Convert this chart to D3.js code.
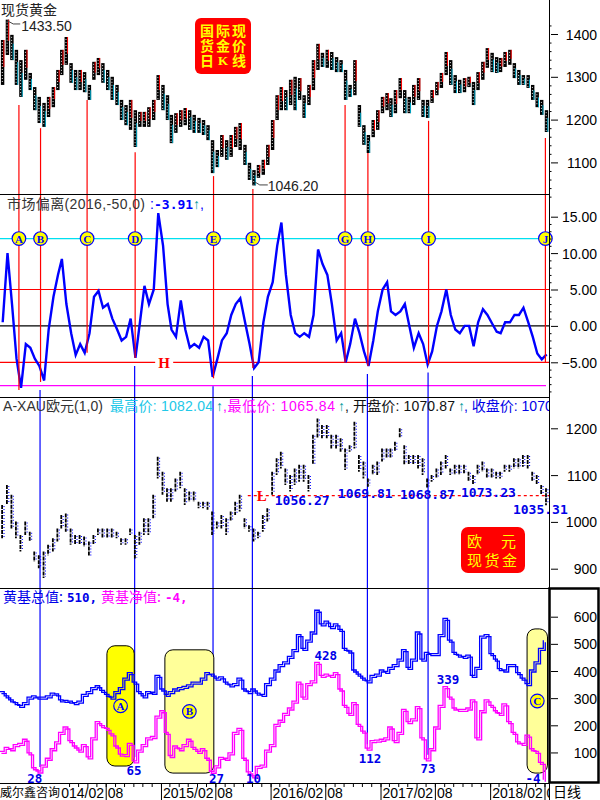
<!DOCTYPE html>
<html><head><meta charset="utf-8">
<script src="https://cdn.jsdelivr.net/npm/d3@7"></script>
<style>body{margin:0;background:#fff}svg{display:block}</style>
</head><body><svg id="c" width="600" height="800"></svg>
<script>
// ---------------- DATA ----------------
const domainStart = "2013-08-14", domainEnd = "2018-08-16";
const periodCount = 120; // half-month periods from 2013-08-16
const goldHigh = [1386,1433.5,1398,1363,1339,1363,1309,1276,1253,1239,
1253,1276,1316,1363,1393,1332,1316,1316,1311,1281,
1335,1344,1332,1316,1300,1281,1246,1234,1246,1222,
1218,1218,1229,1246,1304,1281,1257,1211,1215,1222,
1227,1222,1211,1204,1199,1187,1152,1129,1164,1152,
1164,1183,1192,1141,1099,1082,1094,1106,1141,1199,
1257,1276,1269,1293,1300,1297,1257,1281,1339,1377,
1356,1363,1358,1346,1339,1316,1281,1339,1234,1187,
1164,1199,1222,1253,1262,1250,1269,1297,1269,1253,
1281,1297,1246,1246,1269,1288,1309,1358,1339,1304,
1293,1297,1300,1288,1311,1335,1367,1356,1346,1344,
1358,1363,1332,1316,1304,1304,1281,1264,1246,1222];
const goldLow = [1281,1351,1339,1281,1253,1293,1269,1222,1192,1183,
1206,1229,1269,1304,1328,1286,1269,1269,1264,1246,
1293,1304,1286,1269,1246,1234,1199,1187,1176,1136,
1183,1183,1183,1199,1246,1222,1199,1145,1169,1183,
1187,1176,1169,1169,1164,1152,1075,1089,1113,1106,
1113,1136,1129,1094,1059,1046.2,1064,1071,1094,1129,
1199,1222,1222,1234,1222,1246,1204,1234,1269,1316,
1323,1321,1316,1311,1311,1246,1253,1257,1183,1141,
1122,1159,1176,1215,1222,1206,1215,1250,1215,1215,
1234,1246,1206,1204,1239,1257,1274,1304,1281,1262,
1262,1264,1276,1234,1269,1293,1321,1311,1309,1311,
1323,1328,1297,1281,1281,1274,1246,1229,1211,1171];
const deviation = [0.5,10.0,3.0,-4.5,-8.5,-2.5,-3.0,-4.5,-5.5,-7.5,
-0.5,4.0,7.0,9.2,3.0,-1.0,-4.0,-2.5,-3.7,-1.0,
4.0,4.8,2.5,3.0,1.0,-0.5,-2.0,-1.5,1.0,-4.4,
0.5,5.5,3.0,5.0,15.5,11.0,3.0,-0.5,-1.5,3.5,
-0.5,-3.0,-2.5,-3.0,-1.5,-2.0,-7.0,-4.5,-2.0,-1.0,
1.5,3.0,3.8,0.5,-2.5,-5.8,-5.0,0.5,4.0,6.0,
11.0,14.2,7.0,1.5,-1.0,-1.5,-1.0,-1.5,1.5,10.5,
8.5,7.0,3.0,-2.0,-1.0,-5.0,-2.5,1.0,-1.0,-3.5,
-5.5,-2.0,2.0,5.0,6.0,2.0,1.5,2.0,3.0,0.0,
-3.0,-1.0,-2.5,-5.3,-3.5,0.0,2.0,5.0,1.5,-0.5,
-1.0,0.0,0.0,-2.8,0.5,2.3,1.5,0.3,-0.8,-1.0,
0.5,0.5,1.5,1.5,2.5,0.5,-1.5,-3.8,-4.6,-3.91];
const eurHigh = [1036,1079,1058,1001,972,1001,979,937,929,937,
951,965,986,1015,1018,986,972,972,969,958,
972,986,986,986,986,979,965,965,986,972,
979,1008,1008,1058,1139,1107,1072,1072,1093,1107,
1072,1065,1065,1043,1043,1043,1022,1001,1015,1008,
1022,1043,1058,1008,993,986,979,1015,1029,1107,
1136,1150,1114,1100,1114,1122,1122,1100,1186,1221,
1207,1207,1186,1186,1179,1157,1164,1214,1143,1129,
1093,1122,1129,1157,1157,1157,1171,1200,1164,1143,
1143,1143,1136,1093,1100,1114,1129,1143,1114,1122,
1122,1122,1107,1100,1122,1129,1114,1114,1107,1107,
1122,1122,1136,1136,1143,1143,1107,1100,1079,1072];
const eurLow = [965,1036,986,965,937,972,958,915,901,880,
929,937,958,986,979,951,951,951,947,926,
951,972,965,965,965,965,951,951,972,922,
951,972,972,1008,1093,1058,1043,1043,1065,1072,
1036,1043,1043,1029,1029,1026,972,986,986,972,
1001,1015,1022,986,979,958,965,979,1001,1058,
1100,1114,1079,1065,1079,1086,1086,1065,1122,1179,
1179,1179,1157,1157,1150,1111,1150,1157,1107,1093,
1075,1100,1100,1129,1136,1136,1150,1179,1122,1122,
1122,1114,1100,1072,1086,1093,1100,1114,1100,1100,
1100,1104,1086,1079,1100,1107,1093,1093,1093,1093,
1107,1107,1114,1114,1118,1114,1086,1079,1058,1035.31];
const etfTotal = [320,305,290,280,270,280,300,305,300,300,
305,315,312,290,288,285,280,285,310,320,
335,342,325,310,300,320,335,370,390,355,
320,305,320,318,380,330,310,320,330,335,
340,345,355,355,370,390,385,370,375,355,
345,350,370,330,320,330,315,310,350,370,
400,420,430,450,475,530,480,510,540,620,
570,580,560,570,550,480,470,400,385,370,
360,380,385,400,395,410,420,440,475,410,
440,540,440,465,460,460,530,590,510,465,
455,450,455,380,410,525,530,460,440,405,
400,420,420,390,370,350,400,430,480,510];
const etfNet = [100,115,110,125,130,145,95,40,28,50,
75,110,135,170,190,140,120,105,125,80,
150,210,195,185,165,120,90,88,130,65,
105,125,150,155,230,250,170,85,120,110,
125,145,115,100,110,75,27,47,78,75,
95,170,185,75,25,10,45,50,105,125,
200,215,240,260,285,355,300,350,360,428,
380,385,380,390,330,270,240,280,200,175,
112,140,142,145,150,190,140,170,255,210,
220,265,150,73,110,190,270,339,300,260,
255,255,260,290,150,250,290,270,250,240,
275,210,170,135,130,160,110,100,60,-4];

const goldTicks = [1100,1200,1300,1400];
const devTicks = [-5,0,5,10,15];
const eurTicks = [900,1000,1100,1200];
const etfTicks = [100,200,300,400,500,600];
const devLevels = [12,5,0,-5,-8.2];

const markerLetters = ["A","B","C","D","E","F","G","H","I","J"];
const markerDates = ["2013-10-16","2013-12-27","2014-05-31","2014-11-07","2015-07-26","2015-12-04","2016-10-06","2016-12-21","2017-07-11","2018-08-04"];
const markerGold = [1234,1180,1246,1124,1068,1038,1234,1122,1197,1157];
const markerDev = [-8.8,-7.7,-3.7,-4.4,-7.2,-5.8,-5.0,-5.5,-5.3,-5.0];
const markerNet = [null,28,null,65,27,10,null,112,73,null];

const goldExtremeDates = ["2013-08-28","2015-12-17"];
const goldExtremeValues = [1433.50,1046.20];
const goldExtremeKinds = ["max","min"];

const eurLevel = 1056.27, eurLevelStart = "2015-11-17";
const eurLabelDates = ["2016-02-15","2016-09-12","2017-04-07","2017-10-27","2018-04-18"];
const eurLabelValues = [1056.27,1069.81,1068.87,1073.23,1035.31];

const etfLabelDates = ["2013-12-08","2014-11-03","2015-08-05","2015-12-06","2016-08-03","2016-12-28","2017-07-09","2017-09-14","2018-06-24"];
const etfLabelValues = [28,65,27,10,428,112,73,339,-4];
const etfLabelKinds = ["low","low","low","low","high","low","low","high","low"];

const boxIds = ["A","B","C"];
const boxFrom = ["2014-08-05","2015-02-14","2018-06-04"];
const boxTo = ["2014-11-04","2015-07-27","2018-08-11"];
const boxTop = [493,478,555];
const boxBottom = [50,24,24];

const devHLabelDate = "2015-02-05";

// ---------------- SETUP ----------------
const parse = d3.timeParse("%Y-%m-%d");
const svg = d3.select("#c");
const W = 549;
const SANS = "'Liberation Sans', Arial, 'Noto Sans CJK SC', sans-serif";
const CJK = "'Noto Sans CJK SC', sans-serif";
const MONO = "'DejaVu Sans Mono', monospace";
const SERIF = "'Liberation Serif', 'DejaVu Serif', serif";

const x = d3.scaleTime().domain([parse(domainStart), parse(domainEnd)]).range([0, W]);
const yGold = d3.scaleLinear().domain([1000,1400]).range([205.2,34]);
const yDev = d3.scaleLinear().domain([-5,15]).range([362.3,216.7]);
const yEur = d3.scaleLinear().domain([900,1200]).range([568.7,428.3]);
const yEtf = d3.scaleLinear().domain([0,600]).range([779.6,616.7]);

const periodStarts = d3.range(periodCount).map(i => new Date(2013, 7 + Math.floor((i+1)/2), (i+1)%2 ? 16 : 1));
const centers = periodStarts.map(d => d3.timeDay.offset(d, 7));

const panels = [[0,194],[195,397],[398,588],[589,783]];
const defs = svg.append("defs");
panels.forEach((p,i) => defs.append("clipPath").attr("id","clip"+i).append("rect")
  .attr("x",0).attr("y",p[0]).attr("width",W).attr("height",p[1]-p[0]));
defs.append("clipPath").attr("id","clipX").append("rect").attr("x",0).attr("y",783).attr("width",W).attr("height",17);
defs.append("clipPath").attr("id","clipT").append("rect").attr("x",0).attr("y",0).attr("width",W).attr("height",800);

// ---------------- PANEL 1: gold candles ----------------
const gold = centers.map((c,i) => ({c, hi: goldHigh[i], lo: goldLow[i],
  up: i===0 ? true : (goldHigh[i]+goldLow[i]) >= (goldHigh[i-1]+goldLow[i-1])}));
const g1 = svg.append("g").attr("clip-path","url(#clip0)");
g1.selectAll("rect").data(gold).join("rect")
  .attr("x", d => x(d.c)-1.8).attr("width", 3.4)
  .attr("y", d => yGold(d.hi)).attr("height", d => Math.max(1, yGold(d.lo)-yGold(d.hi)))
  .attr("fill", "#000");
g1.selectAll("line.w").data(gold).join("line").attr("class","w")
  .attr("x1", d => x(d.c)-0.4).attr("x2", d => x(d.c)-0.4)
  .attr("y1", d => yGold(d.hi)+2).attr("y2", d => yGold(d.lo)-1)
  .attr("stroke", "#fff").attr("stroke-width", 0.9).attr("stroke-dasharray","1,2");
g1.selectAll("line.c").data(gold).join("line").attr("class","c")
  .attr("x1", d => x(d.c)+1.2).attr("x2", d => x(d.c)+1.2)
  .attr("y1", d => d.up ? yGold(d.hi) : yGold(d.hi) + (yGold(d.lo)-yGold(d.hi))*0.35)
  .attr("y2", d => d.up ? yGold(d.hi) + (yGold(d.lo)-yGold(d.hi))*0.6 : yGold(d.lo))
  .attr("stroke", d => d.up ? "#ff0000" : "#00a8c8").attr("stroke-width", 1);

goldExtremeDates.forEach((ds,i) => {
  const px = x(parse(ds)), py = yGold(goldExtremeValues[i]);
  const g = svg.append("g");
  if (goldExtremeKinds[i] === "max") {
    g.append("polyline").attr("points", `${px+3},${py+1} ${px+9},${py+4.3} ${px+16},${py+4.3}`)
      .attr("fill","none").attr("stroke","#444");
    g.append("text").attr("x", px+17).attr("y", py+11).text(goldExtremeValues[i].toFixed(2));
  } else {
    g.append("polyline").attr("points", `${px-2},${py-3.5} ${px+3},${py-0.5} ${px+11},${py-0.5}`)
      .attr("fill","none").attr("stroke","#444");
    g.append("text").attr("x", px+11).attr("y", py+6).text(goldExtremeValues[i].toFixed(2));
  }
  g.selectAll("text").attr("font-family", SANS).attr("font-size", 14).attr("fill","#222");
});

svg.append("text").attr("x",1).attr("y",15).attr("font-family",CJK).attr("font-size",14).attr("fill","#222").text("现货黄金");

const badge = svg.append("g");
badge.append("rect").attr("x",195).attr("y",18).attr("width",56).attr("height",56).attr("rx",6).attr("fill","#f00");
const bt = (t, xx, yy, fam, fs) => badge.append("text").attr("x",xx).attr("y",yy).attr("text-anchor","middle")
  .attr("font-family",fam).attr("font-weight","bold").attr("font-size",fs).attr("fill","#ff0").text(t);
[["国",36],["货",51],["日",66]].forEach(r => bt(r[0],207,r[1],CJK,14));
[["际",36],["金",51]].forEach(r => bt(r[0],223,r[1],CJK,14));
bt("K",223,65,SERIF,13);
[["现",36],["价",51],["线",66]].forEach(r => bt(r[0],239,r[1],CJK,14));

// ---------------- PANEL 2: deviation ----------------
const g2 = svg.append("g").attr("clip-path","url(#clip1)");
const levelColors = {"12":"#00e0f0","5":"#ff0000","0":"#000","-5":"#ff0000","-8.2":"#ff00ff"};
const hx = x(parse(devHLabelDate));
devLevels.forEach(v => {
  const y = yDev(v);
  if (v === -5) {
    g2.append("line").attr("x1",0).attr("x2",hx-7).attr("y1",y).attr("y2",y).attr("stroke","#f00").attr("stroke-width",1.2);
    g2.append("line").attr("x1",hx+11).attr("x2",W).attr("y1",y).attr("y2",y).attr("stroke","#f00").attr("stroke-width",1.2);
  } else {
    g2.append("line").attr("x1",0).attr("x2", v===-8.2 ? 546 : W).attr("y1",y).attr("y2",y)
      .attr("stroke",levelColors[String(v)]).attr("stroke-width",1.2);
  }
});
svg.append("text").attr("x",hx+2).attr("y",yDev(-5)+5.5).attr("text-anchor","middle").attr("font-family",SERIF)
  .attr("font-weight","bold").attr("font-size",15).attr("fill","#f00").text("H");

const markers = markerLetters.map((l,i) => ({l, d: parse(markerDates[i]), gold: markerGold[i], dev: markerDev[i], net: markerNet[i]}));
svg.append("g").attr("clip-path","url(#clipT)").selectAll("line").data(markers).join("line")
  .attr("x1", d => x(d.d)).attr("x2", d => x(d.d))
  .attr("y1", d => yGold(d.gold)).attr("y2", d => yDev(d.dev))
  .attr("stroke","#f00").attr("stroke-width",1.2);
svg.append("g").selectAll("line").data(markers.filter(d => d.net !== null)).join("line")
  .attr("x1", d => x(d.d)-0.5).attr("x2", d => x(d.d)-0.5)
  .attr("y1", d => yDev(d.dev)+8).attr("y2", d => yEtf(d.net)-5)
  .attr("stroke","#00f").attr("stroke-width",1.2);

const devData = centers.map((c,i) => ({c, v: deviation[i]}));
g2.append("path").datum(devData)
  .attr("d", d3.line().x(d => x(d.c)).y(d => yDev(d.v)))
  .attr("fill","none").attr("stroke","#0000ff").attr("stroke-width",2.4).attr("stroke-linejoin","miter");

const circ = svg.append("g").selectAll("g").data(markers).join("g")
  .attr("transform", d => `translate(${x(d.d)},${yDev(12)})`);
circ.append("circle").attr("r",6.8).attr("fill","#ff0").attr("stroke","#00f").attr("stroke-width",1.2);
circ.append("text").attr("y",4).attr("text-anchor","middle").attr("font-family",SERIF).attr("font-weight","bold")
  .attr("font-size",11).attr("fill","#00f").text(d => d.l);

const t2 = svg.append("g").attr("font-size",14);
t2.append("text").attr("x",7).attr("y",209).attr("font-family",SANS).attr("fill","#333").attr("textLength",138).text("市场偏离(2016,-50,0)");
t2.append("text").attr("x",150).attr("y",209).attr("font-family",SANS).attr("fill","#00f").text(":");
t2.append("text").attr("x",154).attr("y",209).attr("font-family",MONO).attr("font-weight","bold").attr("font-size",13).attr("fill","#00f").text("-3.91");
t2.append("text").attr("x",193).attr("y",209).attr("font-family",SANS).attr("fill","#009a9a").text("↑");
t2.append("text").attr("x",200).attr("y",209).attr("font-family",SANS).attr("fill","#00f").text(",");

// ---------------- PANEL 3: EUR gold ----------------
const g3 = svg.append("g").attr("clip-path","url(#clip2)");
const eur = centers.map((c,i) => ({c, hi: eurHigh[i], lo: eurLow[i]}));
g3.selectAll("line.b").data(eur).join("line").attr("class","b")
  .attr("x1", d => x(d.c)-0.6).attr("x2", d => x(d.c)-0.6)
  .attr("y1", d => yEur(d.hi)).attr("y2", d => yEur(d.lo))
  .attr("stroke","#000").attr("stroke-width",1.8).attr("stroke-dasharray","4,1");
g3.selectAll("line.u").data(eur).join("line").attr("class","u")
  .attr("x1", d => x(d.c)+1.3).attr("x2", d => x(d.c)+1.3)
  .attr("y1", d => yEur(d.hi)+1).attr("y2", d => yEur(d.lo)-1)
  .attr("stroke","#0000ff").attr("stroke-width",1.1).attr("stroke-dasharray","1,2");
const ly = yEur(eurLevel);
g3.append("line").attr("x1", x(parse(eurLevelStart))).attr("x2", W).attr("y1", ly).attr("y2", ly)
  .attr("stroke","#f00").attr("stroke-width",1.2).attr("stroke-dasharray","3,3");
g3.append("text").attr("x", x(parse(eurLevelStart))+9).attr("y", ly+5.5).attr("font-family",SERIF).attr("font-weight","bold")
  .attr("font-size",15).attr("fill","#f00").text("L");
svg.append("g").selectAll("text").data(eurLabelDates.map((d,i) => ({d: parse(d), v: eurLabelValues[i]}))).join("text")
  .attr("x", d => x(d.d)).attr("y", d => yEur(d.v)+9)
  .attr("font-family",MONO).attr("font-weight","bold").attr("font-size",13).attr("fill","#0000e8")
  .text(d => d.v.toFixed(2));
const eb = svg.append("g");
eb.append("rect").attr("x",461).attr("y",527).attr("width",64).attr("height",46).attr("rx",7).attr("fill","#f00");
eb.append("text").attr("x",467).attr("y",547).attr("font-family",CJK).attr("font-size",15).attr("fill","#ff0").text("欧");
eb.append("text").attr("x",501).attr("y",547).attr("font-family",CJK).attr("font-size",15).attr("fill","#ff0").text("元");
eb.append("text").attr("x",467).attr("y",566).attr("font-family",CJK).attr("font-size",15).attr("fill","#ff0")
  .attr("textLength",50).text("现货金");

const t3 = svg.append("g").attr("font-family",SANS).attr("font-size",14).attr("clip-path","url(#clipT)");
[["A-XAU欧元(1,0)",3,"#333",100],["最高价: 1082.04",110,"#22c8e8",103],["↑",216,"#009a9a",null],[",最低价: 1065.84",223,"#ff00ff",112],
 ["↑",338,"#009a9a",null],[", 开盘价: 1070.87",345,"#111",110],["↑",458,"#009a9a",null],[", 收盘价: 1070.87",464,"#0000e8",null]]
 .forEach(s => { const t = t3.append("text").attr("x",s[1]).attr("y",411).attr("fill",s[2]).text(s[0]);
   if (s[3]) t.attr("textLength", s[3]).attr("lengthAdjust","spacing"); });

// ---------------- PANEL 4: ETF ----------------
const g4 = svg.append("g").attr("clip-path","url(#clip3)");
const boxes = boxIds.map((id,i) => ({id, x0: x(parse(boxFrom[i])), x1: x(parse(boxTo[i])), top: boxTop[i], bottom: boxBottom[i]}));
g4.selectAll("rect").data(boxes).join("rect")
  .attr("x", d => d.x0).attr("width", d => d.x1-d.x0)
  .attr("y", d => yEtf(d.top)).attr("height", d => yEtf(d.bottom)-yEtf(d.top))
  .attr("rx",8).attr("fill", (d,i) => i===0 ? "#ffff00" : "#ffff99").attr("stroke","#000").attr("stroke-width",1);
const etf = centers.map((c,i) => ({c, t: etfTotal[i], n: etfNet[i]}));
const stepLine = key => d3.line().curve(d3.curveStepAfter).x(d => x(d.c)-2.3).y(d => yEtf(d[key]));
[["t","#0000ff"],["n","#ff00ff"]].forEach(s => {
  [[-1,-1],[1,1]].forEach(o => g4.append("path").datum(etf).attr("transform",`translate(${o[0]},${o[1]})`)
    .attr("d", stepLine(s[0])).attr("fill","none").attr("stroke",s[1]).attr("stroke-width",1.3));
});
const bc = g4.selectAll("g.bc").data(boxes).join("g").attr("class","bc")
  .attr("transform", d => `translate(${(d.x0+d.x1)/2},${(yEtf(d.top)+yEtf(d.bottom))/2})`);
bc.append("circle").attr("r",6.8).attr("fill","#ff0").attr("stroke","#00f").attr("stroke-width",1.2);
bc.append("text").attr("y",4).attr("text-anchor","middle").attr("font-family",SERIF).attr("font-weight","bold")
  .attr("font-size",11).attr("fill","#00f").text(d => d.id);
svg.append("g").selectAll("text").data(etfLabelDates.map((d,i) => ({d: parse(d), v: etfLabelValues[i], k: etfLabelKinds[i]}))).join("text")
  .attr("x", d => x(d.d)).attr("text-anchor","middle")
  .attr("y", d => (d.k === "high" ? yEtf(d.v) - 8 : Math.min(yEtf(d.v)+9, 778)) + 4.5)
  .attr("font-family",MONO).attr("font-weight","bold").attr("font-size",12.5).attr("fill","#0000e8")
  .text(d => d.v);
const t4 = svg.append("g").attr("font-size",14);
t4.append("text").attr("x",3).attr("y",602).attr("font-family",CJK).attr("fill","#0000e8").text("黄基总值:");
t4.append("text").attr("x",67).attr("y",602).attr("font-family",MONO).attr("font-weight","bold").attr("font-size",12.5).attr("fill","#0000e8").text("510,");
t4.append("text").attr("x",101).attr("y",602).attr("font-family",CJK).attr("fill","#ff00ff").text("黄基净值:");
t4.append("text").attr("x",165).attr("y",602).attr("font-family",MONO).attr("font-weight","bold").attr("font-size",12.5).attr("fill","#ff00ff").text("-4,");

// ---------------- FRAME & AXES ----------------
[194.5,397.5,588.5,783.5].forEach(y => svg.append("line").attr("x1",0).attr("x2",W).attr("y1",y).attr("y2",y).attr("stroke","#000"));
svg.append("line").attr("x1",W+0.5).attr("x2",W+0.5).attr("y1",0).attr("y2",800).attr("stroke","#000");
svg.append("rect").attr("x",549.5).attr("y",588.5).attr("width",49).attr("height",194).attr("fill","none").attr("stroke","#000").attr("stroke-width",2.5);

function rAxis(scale, ticks, fmt, minorTicks) {
  if (minorTicks) {
    svg.append("g").attr("transform","translate(550,0)")
      .call(d3.axisRight(scale).tickValues(minorTicks).tickSize(1.5).tickFormat(""))
      .call(g => g.select(".domain").remove()).selectAll("line").attr("stroke","#000");
  }
  svg.append("g").attr("transform","translate(551,0)")
    .call(d3.axisRight(scale).tickValues(ticks).tickSize(7).tickFormat(fmt))
    .call(g => g.select(".domain").remove())
    .call(g => g.selectAll("text").attr("x",46).attr("dy","0.36em").attr("text-anchor","end")
      .attr("font-family",SANS).attr("font-size",14).attr("fill","#000"));
}
rAxis(yGold, goldTicks, d3.format("d"), d3.range(1000,1440,20).filter(v => v%100));
rAxis(yDev, devTicks, d3.format(".2f"), d3.range(-9,16,1).filter(v => v%5));
rAxis(yEur, eurTicks, d3.format("d"), null);
rAxis(yEtf, etfTicks, d3.format("d"), null);

const gx = svg.append("g").attr("clip-path","url(#clipX)");
gx.append("g").attr("transform","translate(0,783)")
  .call(d3.axisBottom(x).ticks(d3.timeMonth.every(1)).tickSize(4).tickFormat(""))
  .call(g => g.select(".domain").remove());
const majorMonths = d3.timeMonth.range(parse("2014-02-01"), parse(domainEnd)).filter(d => d.getMonth()===1 || d.getMonth()===7);
gx.append("g").attr("transform","translate(0,783)")
  .call(d3.axisBottom(x).tickValues(majorMonths).tickSize(17)
    .tickFormat(d => d.getMonth()===1 ? d3.timeFormat("%Y/%m")(d) : d3.timeFormat("%m")(d)))
  .call(g => g.select(".domain").remove())
  .call(g => g.selectAll("text").attr("x",1.5).attr("y",14.5).attr("dy",0).attr("text-anchor","start")
    .attr("font-family",SANS).attr("font-size",14).attr("fill","#000"));
svg.append("rect").attr("x",0).attr("y",784).attr("width",61).attr("height",16).attr("fill","#fff");
svg.append("text").attr("x",0).attr("y",797).attr("font-family",CJK).attr("font-size",12).attr("fill","#000").text("威尔鑫咨询");
svg.append("text").attr("x",553).attr("y",797).attr("font-family",CJK).attr("font-size",14).attr("fill","#000").text("日线");
</script></body></html>
